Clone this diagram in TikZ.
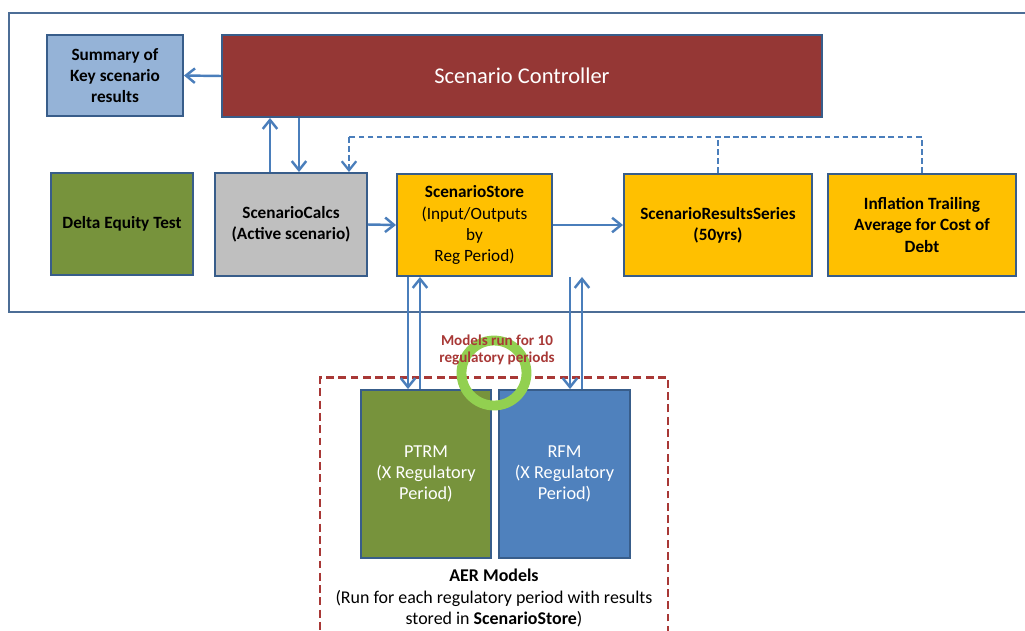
\documentclass[tikz,border=0pt]{standalone}
\usepackage{xcolor}
\usepackage{tikz}
\usetikzlibrary{arrows.meta}
\usepackage{fontspec}
\setmainfont{Carlito}
\definecolor{boxline}{RGB}{56,93,138}
\definecolor{arrowblue}{RGB}{74,126,187}
\definecolor{sumblue}{RGB}{149,179,215}
\definecolor{ctrlred}{RGB}{149,55,53}
\definecolor{olive}{RGB}{119,147,60}
\definecolor{storegold}{RGB}{255,192,0}
\definecolor{rfmblue}{RGB}{79,129,189}
\definecolor{noteRed}{RGB}{168,56,54}
\definecolor{ringgreen}{RGB}{146,208,80}

\begin{document}
\begin{tikzpicture}[x=0.02cm, y=-0.02cm,
    >={Straight Barb[length=1.8mm,width=2.9mm]},
    blk/.style={draw=boxline, line width=1.1pt, align=center, inner sep=2pt,
      font=\fontsize{9.8}{12}\selectfont},
    link/.style={->, draw=arrowblue, line width=1.4pt},
    dashlink/.style={draw=arrowblue, line width=1.3pt, dash pattern=on 3.2pt off 2pt}]
    \useasboundingbox (0,0) rectangle (1025,630);
    \draw[boxline!90, line width=1.3pt] (9,13) rectangle (1045,312);

    \node[blk,fill=sumblue,minimum width=2.72cm,minimum height=1.62cm] (summary) at (115,75.5)
      {\textbf{Summary of}\\\textbf{Key scenario}\\\textbf{results}};
    \node[blk,fill=ctrlred,text=white,minimum width=12cm,minimum height=1.64cm,
      font=\fontsize{12.8}{14}\selectfont] (controller) at (522,76) {Scenario Controller};
    \node[blk,fill=olive,minimum width=2.84cm,minimum height=2.04cm] (delta) at (122,224)
      {\textbf{Delta Equity Test}};
    \node[blk,fill=black!25,minimum width=3.04cm,minimum height=2.06cm] (calcs) at (291,224.5)
      {\textbf{ScenarioCalcs}\\\textbf{(Active scenario)}};
    \node[blk,fill=storegold,minimum width=3.1cm,minimum height=2.04cm] (store) at (474.5,225)
      {\textbf{ScenarioStore}\\(Input/Outputs\\by\\Reg Period)};
    \node[blk,fill=storegold,minimum width=3.76cm,minimum height=2.04cm] (series) at (718,225)
      {\textbf{ScenarioResultsSeries}\\\textbf{(50yrs)}};
    \node[blk,fill=storegold,minimum width=3.76cm,minimum height=2.04cm] (inflation) at (922,225)
      {\textbf{Inflation Trailing}\\\textbf{Average for Cost of}\\\textbf{Debt}};

    % AER models block
    \node[draw=noteRed, line width=1.3pt, dash pattern=on 4.5pt off 2.5pt,
      minimum width=6.96cm, minimum height=5.3cm] (aer) at (494,510) {};
    \node[blk,fill=olive,text=white,minimum width=2.6cm,minimum height=3.36cm,
      font=\fontsize{10.4}{12}\selectfont] (ptrm) at (426,474) {PTRM\\(X Regulatory\\Period)};
    \node[blk,fill=rfmblue,text=white,minimum width=2.62cm,minimum height=3.36cm,
      font=\fontsize{10.4}{12}\selectfont] (rfm) at (564.5,474) {RFM\\(X Regulatory\\Period)};
    \node[align=center, font=\fontsize{10.2}{12.2}\selectfont] (aertext) at (494,598)
      {\textbf{AER Models}\\(Run for each regulatory period with results\\stored in \textbf{ScenarioStore})};

    \node[circle, draw=ringgreen, line width=5.6pt, minimum size=1.3cm] (ring) at (494,373) {};
    \node[align=center, text=noteRed, font=\bfseries\fontsize{8.6}{9.8}\selectfont] (runnote) at (497,350)
      {Models run for 10\\regulatory periods};

    % connectors
    \draw[link] (controller.west) -- (summary.east);
    \draw[link] ([xshift=-0.42cm]calcs.north) -- ([xshift=-0.42cm]calcs.north |- controller.south);
    \draw[link] ([xshift=0.16cm]calcs.north |- controller.south) -- ([xshift=0.16cm]calcs.north);
    \draw[link] (calcs.east) -- (store.west);
    \draw[link] (store.east) -- (series.west);
    \draw[link] ([xshift=-0.36cm]ptrm.north |- store.south) -- ([xshift=-0.36cm]ptrm.north);
    \draw[link] ([xshift=-0.12cm]ptrm.north) -- ([xshift=-0.12cm]ptrm.north |- store.south);
    \draw[link] ([xshift=0.11cm]rfm.north |- store.south) -- ([xshift=0.11cm]rfm.north);
    \draw[link] ([xshift=0.35cm]rfm.north) -- ([xshift=0.35cm]rfm.north |- store.south);

    \coordinate (dashtop) at (349,137);
    \draw[dashlink] (inflation.north) |- (dashtop);
    \draw[dashlink] (series.north) -- (series.north |- dashtop);
    \draw[dashlink,->] (dashtop) -- (dashtop |- calcs.north);
  \end{tikzpicture}
\end{document}
